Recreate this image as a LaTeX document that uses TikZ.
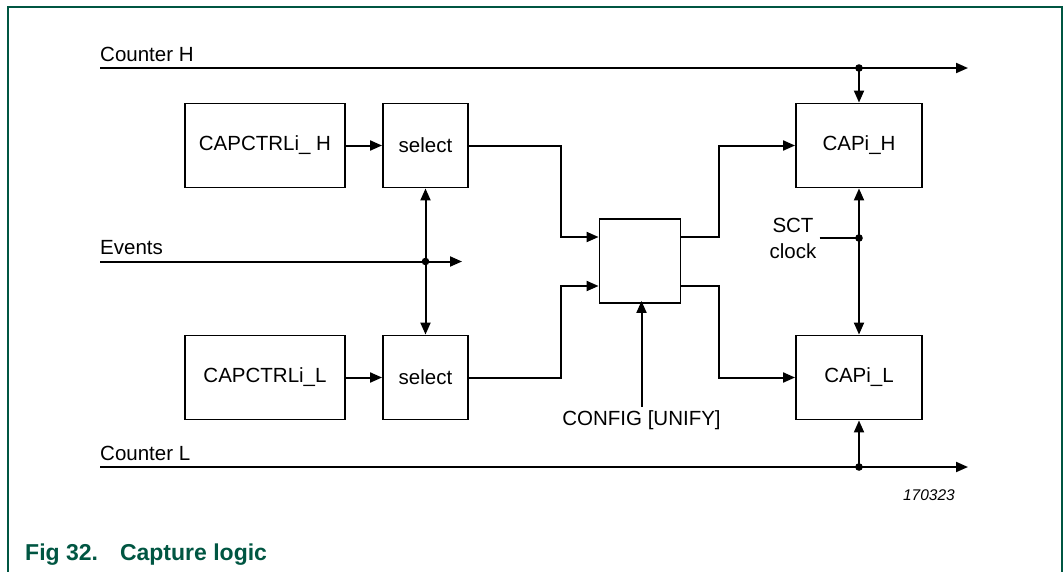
\documentclass[tikz,border=0pt]{standalone}
\usepackage{fontspec}
\setmainfont{Liberation Sans}
\usetikzlibrary{arrows.meta}
\definecolor{nxpgreen}{RGB}{0,86,66}
\begin{document}
\begin{tikzpicture}[x=1pt,y=-1pt,
  every node/.style={font=\fontsize{20.5}{26}\selectfont, inner sep=0pt},
  blk/.style={draw, line width=1.9pt, minimum height=84pt, align=center},
  wire/.style={line width=2pt},
  arr/.style={wire, -{Triangle[length=12pt,width=10pt]}},
  darr/.style={wire, {Triangle[length=12pt,width=10pt]}-{Triangle[length=12pt,width=10pt]}},
  lbl/.style={anchor=base west}]
\useasboundingbox (0,0) rectangle (1063,571);
% frame
\draw[nxpgreen, line width=1.8pt] (8,572) -- (8,7) -- (1062,7) -- (1062,572);

% blocks
\node[blk, minimum width=160pt] (ctrlh) at (265,145.5) {CAPCTRLi\_ H};
\node[blk, minimum width=85pt]  (selh)  at (425.5,145.5) {select};
\node[blk, minimum width=160pt] (ctrll) at (265,377.5) {CAPCTRLi\_L};
\node[blk, minimum width=85pt]  (sell)  at (425.5,377.5) {select};
\node[blk, minimum width=81pt]  (mid)   at (640,261) {};
\node[blk, minimum width=126pt] (cph)   at (859,145.5) {CAPi\_H};
\node[blk, minimum width=126pt] (cpl)   at (859,377.5) {CAPi\_L};

% counter H
\coordinate (chs) at (100,68);
\coordinate (che) at (968,68);
\coordinate (chd) at (859,68);
\node[lbl] (lch) at (100,61) {Counter H};
\draw[arr] (chs) -- (che);
\draw[arr] (chd) -- (cph.north);
\fill (chd) circle (3.8pt);

% events
\coordinate (evs) at (100,261.5);
\coordinate (eve) at (462,261.5);
\coordinate (evd) at (425.5,261.5);
\node[lbl] (lev) at (100,254) {Events};
\draw[arr] (evs) -- (eve);
\draw[darr] (selh.south) -- (sell.north);
\fill (evd) circle (3.8pt);

% counter L
\coordinate (cls) at (100,467);
\coordinate (cle) at (968,467);
\coordinate (cld) at (859,467);
\node[lbl] (lcl) at (100,460) {Counter L};
\draw[arr] (cls) -- (cle);
\draw[arr] (cld) -- (cpl.south);
\fill (cld) circle (3.8pt);

% control to select
\draw[arr] (ctrlh.east) -- (selh.west);
\draw[arr] (ctrll.east) -- (sell.west);

% select to mid
\draw[arr] (selh.east) -- ++(92,0) |- ([yshift=24pt]mid.west);
\draw[arr] (sell.east) -- ++(92,0) |- ([yshift=-25pt]mid.west);

% mid to CAPi
\draw[arr] ([yshift=24pt]mid.east) -- ++(38,0) |- (cph.west);
\draw[arr] ([yshift=-25pt]mid.east) -- ++(38,0) |- (cpl.west);

% config
\node[anchor=base, inner sep=0pt] (cfg) at (641.5,425) {CONFIG [UNIFY]};
\draw[arr] ([yshift=3pt]cfg.north) -- ([yshift=3pt]cfg.north |- mid.south);

% SCT clock
\coordinate (clk) at (859,238);
\node[align=center, inner sep=0pt] (sct) at (793,238) {SCT\\clock};
\draw[darr] (cph.south) -- (cpl.north);
\draw[wire] ([xshift=3pt]sct.east) -- (clk);
\fill (clk) circle (3.8pt);

% figure number
\node[anchor=base east, font=\fontsize{15.5}{18}\selectfont\itshape] (num) at (955,500) {170323};

% caption
\node[anchor=base west, text=nxpgreen, font=\fontsize{23}{27}\selectfont\bfseries] (cap) at (25,560) {Fig 32.\hspace{22pt}Capture logic};
\end{tikzpicture}
\end{document}
